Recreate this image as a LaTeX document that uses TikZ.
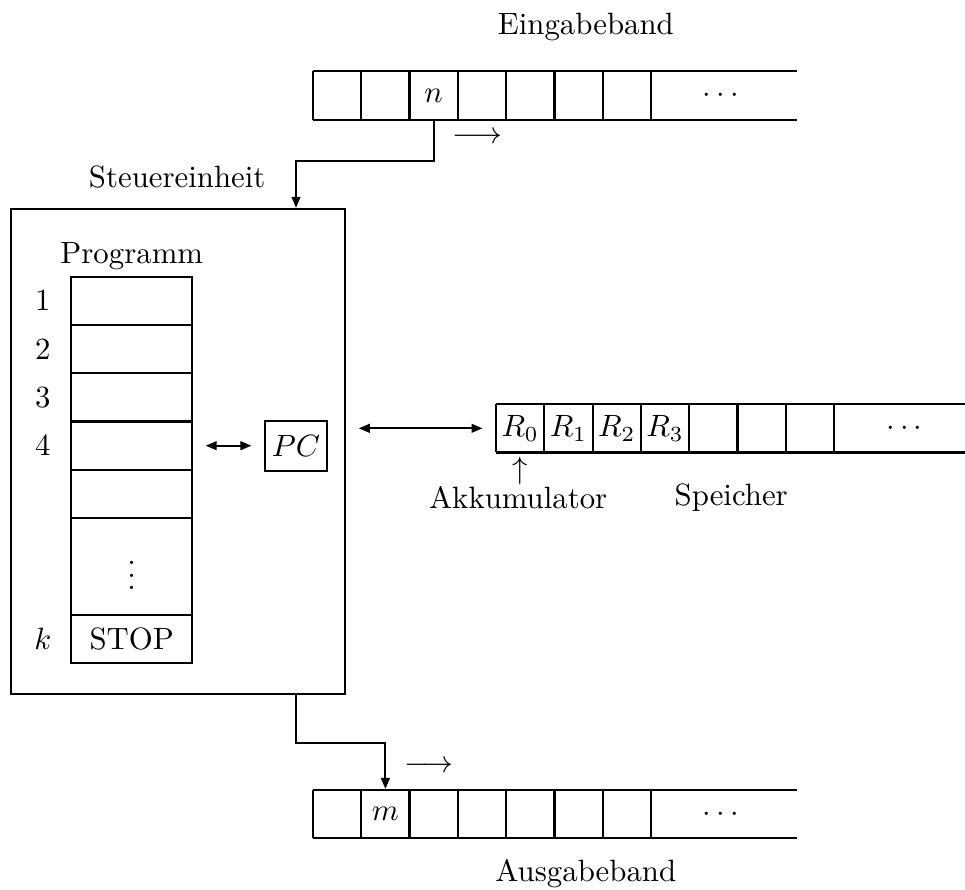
\documentclass[tikz,border=0pt]{standalone}
\usepackage{amsmath,amssymb}
\usetikzlibrary{arrows.meta,calc}

\tikzset{
  cell/.style={minimum width=0.551cm,minimum height=0.551cm,inner sep=0pt},
  row/.style={draw,minimum width=1.378cm,minimum height=0.551cm,inner sep=0pt},
}

\begin{document}
\begin{tikzpicture}[scale=0.551,line width=0.7pt,>={Triangle[length=3.6pt,width=2.8pt]}]
  \useasboundingbox (-0.228,-14.08) rectangle (19.75,4.327);
  % Control unit
  \node[draw,minimum width=3.813cm,minimum height=5.532cm,inner sep=0pt] (steuer) at (3.46,-5.02) {};
  \node (steuerlabel) at (3.44,0.66) {Steuereinheit};
  % Program
  \node (prog) at (2.5,-0.98) {Programm};
  \foreach \i in {1,...,5} \node[row] (p\i) at (2.5,-0.9-\i) {};
  \node[row,minimum height=1.102cm] (pdots) at (2.5,-7.4) {$\vdots$};
  \node[row] (pk) at (2.5,-8.9) {STOP};
  \foreach \i in {1,...,4} \node (l\i) at (0.66,-0.9-\i) {$\i$};
  \node (lk) at (0.66,-8.9) {$k$};
  % Program counter
  \node[draw,minimum width=0.71cm,minimum height=0.57cm,inner sep=0pt] (pc) at (5.9,-4.9) {$PC$};
  \draw[<->,shorten <=4pt,shorten >=4pt] (p4.east) -- (pc.west);
  % Input tape
  \draw (6.25,2.85) -- (16.27,2.85) (6.25,1.85) -- (16.27,1.85);
  \foreach \x in {6.25,7.25,...,13.25} \draw (\x,1.85) -- (\x,2.85);
  \node[cell] (n) at (8.75,2.35) {$n$};
  \node (indots) at (14.75,2.35) {$\cdots$};
  \node (inmove) at (9.65,1.47) {$\longrightarrow$};
  \node (inlabel) at (11.9,3.76) {Eingabeband};
  \draw[->] (n.south) -- ++(0,-0.84) -| (pc |- steuer.north);
  % Memory
  \draw (10.04,-4.04) -- (19.75,-4.04) (10.04,-5.04) -- (19.75,-5.04);
  \foreach \x in {10.04,11.04,...,17.04} \draw (\x,-5.04) -- (\x,-4.04);
  \foreach \i in {0,...,3} \node[cell] (r\i) at (10.54+\i,-4.54) {$R_\i$};
  \node (memdots) at (18.55,-4.54) {$\cdots$};
  \node (akkuarrow) at (10.54,-5.42) {$\uparrow$};
  \node (akku) at (10.5,-5.97) {Akkumulator};
  \node (speicher) at (14.91,-5.97) {Speicher};
  \draw[<->,shorten <=4pt,shorten >=4pt] (steuer.east |- r0) -- (r0.west);
  % Output tape
  \draw (6.25,-12.03) -- (16.27,-12.03) (6.25,-13.03) -- (16.27,-13.03);
  \foreach \x in {6.25,7.25,...,13.25} \draw (\x,-13.03) -- (\x,-12.03);
  \node[cell] (m) at (7.75,-12.53) {$m$};
  \node (outdots) at (14.75,-12.53) {$\cdots$};
  \node (outmove) at (8.65,-11.55) {$\longrightarrow$};
  \node (outlabel) at (11.9,-13.77) {Ausgabeband};
  \draw[->] (pc |- steuer.south) -- ++(0,-1) -| (m.north);
\end{tikzpicture}
\end{document}
